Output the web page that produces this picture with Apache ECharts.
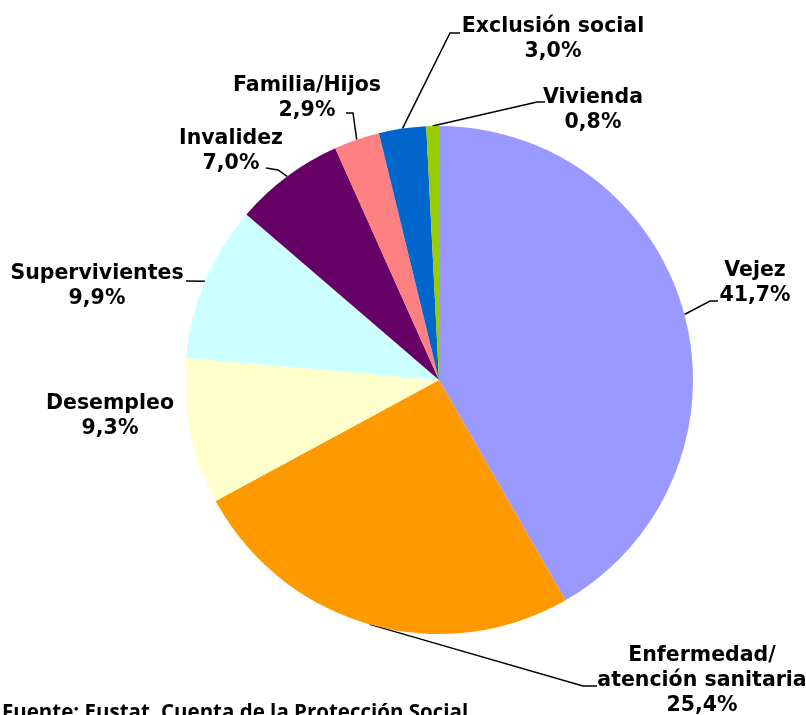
<!DOCTYPE html>
<html>
<head>
<meta charset="utf-8">
<script src="https://cdn.jsdelivr.net/npm/echarts@6/dist/echarts.min.js"></script>
<style>
  html, body { margin: 0; padding: 0; background: #fff; }
  #chart { width: 806px; height: 715px; }
</style>
</head>
<body>
<div id="chart"></div>
<script>
// datos (Eustat, Cuenta de la Protección Social)
const categories = ['Vejez', 'Enfermedad/\natención sanitaria', 'Desempleo', 'Supervivientes',
  'Invalidez', 'Familia/Hijos', 'Exclusión social', 'Vivienda'];
const values = [41.7, 25.4, 9.3, 9.9, 7.0, 2.9, 3.0, 0.8];
const colors = ['#9999FF', '#FF9900', '#FFFFCC', '#CCFFFF', '#660066', '#FF8080', '#0066CC', '#99CC00'];

// posición de cada etiqueta (centro del bloque) y codo de la línea guía
const labelPos = [
  { x: 755, y: 283, line: [[710, 301], [718, 301]] },
  { x: 702, y: 681, line: [[583, 686], [597, 686]] },
  { x: 110, y: 416, line: null },
  { x: 97, y: 286, line: [[186, 281]] },
  { x: 231, y: 151, line: [[278, 170], [266, 168]] },
  { x: 307, y: 98, line: [[353, 113], [346, 113]] },
  { x: 553, y: 39, line: [[450, 33], [460, 33]] },
  { x: 593, y: 110, line: [[537, 102], [545, 102]] }
];

const chart = echarts.init(document.getElementById('chart'));

const option = {
  backgroundColor: '#fff',
  animation: false,
  title: {
    text: 'Fuente: Eustat. Cuenta de la Protección Social',
    left: 2,
    top: 703,
    padding: 0,
    textStyle: {
      fontFamily: '"Liberation Sans Narrow", "Open Sans", sans-serif',
      fontSize: 20.5,
      fontWeight: 'bold',
      color: '#000'
    }
  },
  series: [
    {
      type: 'pie',
      center: [439, 380],
      radius: 254,
      startAngle: 90,
      clockwise: true,
      avoidLabelOverlap: false,
      data: categories.map((name, i) => ({
        name: name,
        value: values[i],
        itemStyle: { color: colors[i] },
        labelLine: { show: labelPos[i].line !== null }
      })),
      itemStyle: { borderWidth: 0 },
      label: {
        show: true,
        position: 'outside',
        formatter: p => p.name + '\n' + p.value.toFixed(1).replace('.', ',') + '%',
        fontFamily: '"DejaVu Sans", Verdana, sans-serif',
        fontWeight: 'bold',
        fontSize: 20.5,
        lineHeight: 25,
        color: '#000',
        align: 'center'
      },
      labelLine: {
        show: true,
        length: 10,
        length2: 10,
        lineStyle: { color: '#000', width: 1.5 }
      },
      labelLayout: function (params) {
        const lp = labelPos[params.dataIndex];
        const out = { x: lp.x, y: lp.y, align: 'center', verticalAlign: 'middle' };
        if (lp.line && params.labelLinePoints) {
          out.labelLinePoints = [params.labelLinePoints[0]].concat(lp.line);
        }
        return out;
      },
      emphasis: { disabled: true }
    }
  ]
};

chart.setOption(option);
</script>
</body>
</html>
